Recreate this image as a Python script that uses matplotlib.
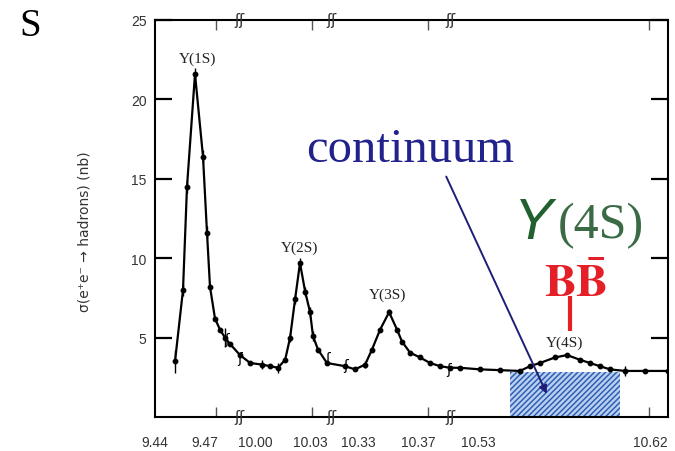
import numpy as np
import matplotlib.pyplot as plt
from matplotlib.patches import Rectangle
from matplotlib.transforms import blended_transform_factory

plt.rcParams['mathtext.fontset'] = 'stix'
plt.rcParams['hatch.linewidth'] = 1.1

# broken energy axis: GeV anchors and their positions along the axis
seg_gev = [8.0, 9.44, 9.491, 9.9945, 10.0436, 10.3213, 10.3913, 10.5206, 10.6294, 12.0]
seg_pos = [-2245, 155, 240, 245, 335, 345, 450, 460, 668, 3287]

# sigma(e+e- -> hadrons) scan (nb)
energy = [9.452, 9.4568, 9.4592, 9.464, 9.4688, 9.4712, 9.473, 9.476, 9.479, 9.482, 9.485, 9.491,
          9.9973, 10.0038, 10.0082, 10.0125, 10.0164, 10.0191, 10.0218, 10.0245, 10.0273,
          10.030, 10.0316, 10.0343, 10.0392,
          10.3213, 10.328, 10.3347, 10.3393, 10.3447, 10.3507, 10.356, 10.3593, 10.3647,
          10.3713, 10.378, 10.3847, 10.3913,
          10.5206, 10.531, 10.5415, 10.552, 10.5572, 10.5624, 10.5703, 10.5766, 10.5834,
          10.5886, 10.5938, 10.599, 10.6069, 10.6174, 10.6294]
xsec = [3.5, 8.0, 14.5, 21.6, 16.4, 11.6, 8.2, 6.2, 5.5, 5.0, 4.6, 3.9,
        3.4, 3.3, 3.2, 3.1, 3.6, 5.0, 7.4, 9.7, 7.9,
        6.6, 5.1, 4.25, 3.4,
        3.2, 3.0, 3.3, 4.25, 5.5, 6.6, 5.5, 4.75, 4.05,
        3.75, 3.4, 3.2, 3.1,
        3.1, 3.0, 2.95, 2.9, 3.2, 3.4, 3.75, 3.9, 3.6,
        3.4, 3.2, 3.0, 2.9, 2.9, 2.9]
xerr_bars = [0.7, 0.4, 0.4, 0.4, 0.4, 0.4, 0.0, 0.0, 0.0, 0.6, 0.0, 0.0,
             0.0, 0.3, 0.0, 0.3, 0.0, 0.3, 0.3, 0.3, 0.3,
             0.3, 0.3, 0.0, 0.0,
             0.0, 0.0, 0.2, 0.0, 0.0, 0.2, 0.0, 0.0, 0.0,
             0.0, 0.0, 0.0, 0.0,
             0.0, 0.0, 0.0, 0.0, 0.0, 0.0, 0.0, 0.0, 0.0,
             0.0, 0.0, 0.0, 0.3, 0.0, 0.0]

peak_names = ['Υ(1S)', 'Υ(2S)', 'Υ(3S)', 'Υ(4S)']
peak_label_x = [9.4658, 10.0245, 10.350, 10.5755]
peak_label_y = [22.6, 10.7, 7.7, 4.7]

xtick_vals = [9.44, 9.47, 10.00, 10.03, 10.33, 10.37, 10.53, 10.62]
xtick_labels = ['9.44', '9.47', '10.00', '10.03', '10.33', '10.37', '10.53', '10.62']
xtick_marks = [9.4766, 10.031, 10.3767, 10.6195]
axis_breaks = [9.4905, 10.0415, 10.3915]
curve_breaks = [(9.483, 4.9), (9.4915, 3.7), (10.0395, 3.7), (10.3215, 3.3), (10.3905, 3.0)]

# continuum window under the 4S
cont_lo, cont_hi, cont_top = 10.5467, 10.6043, 2.85


def fwd(e):
    return np.interp(e, seg_gev, seg_pos)


def inv(p):
    return np.interp(p, seg_pos, seg_gev)


fig = plt.figure(figsize=(6.75, 4.52), dpi=100)
ax = fig.add_axes([155 / 675, 34 / 452, 513 / 675, 397 / 452])
ax.set_xscale('function', functions=(fwd, inv))
ax.set_xlim(9.44, 10.6294)
ax.set_ylim(0, 25)

ax.add_patch(Rectangle((cont_lo, 0), cont_hi - cont_lo, cont_top, facecolor='#b9d0ef',
                       edgecolor='#2f5fb5', hatch='//////', lw=0, zorder=1))

ax.errorbar(energy, xsec, yerr=xerr_bars, fmt='-o', color='black', lw=1.6, ms=3.2,
            elinewidth=1.0, capsize=0, zorder=3)

for name, px, py in zip(peak_names, peak_label_x, peak_label_y):
    ax.text(px, py, name, ha='center', va='center', fontsize=11,
            family='Liberation Serif', color='#222222', zorder=4)

for bx, by in curve_breaks:
    ax.text(bx, by, 'ʃ', ha='center', va='center', fontsize=10, color='black', zorder=4)

trans = blended_transform_factory(ax.transData, ax.transAxes)
for bx in axis_breaks:
    for yy in (0, 1):
        ax.text(bx, yy, 'ʃʃ', transform=trans, ha='center', va='center', fontsize=11,
                color='#333333', clip_on=False)

# axes styling
ax.set_xticks(xtick_vals)
ax.set_xticklabels(xtick_labels)
ax.set_xticks(xtick_marks, minor=True)
ax.tick_params(axis='x', which='major', length=0, pad=13, labelsize=10,
               labelcolor='#333333', top=False)
ax.tick_params(axis='x', which='minor', direction='in', length=7, width=1.0,
               top=True, bottom=True, color='#555555')
ax.set_yticks([5, 10, 15, 20, 25])
ax.tick_params(axis='y', direction='in', length=12, width=1.6, pad=6, labelsize=10,
               labelcolor='#333333', right=True)
for lab in ax.get_xticklabels() + ax.get_yticklabels():
    lab.set_family('Liberation Sans')
for sp in ax.spines.values():
    sp.set_linewidth(1.5)

ax.set_ylabel('σ(e⁺e⁻ → hadrons) (nb)', fontsize=10, color='#333333')
ax.yaxis.set_label_coords(-0.123, 0.47)

# annotations
ax.text(10.3647, 16.9, 'continuum', ha='center', va='center', fontsize=35,
        family='Liberation Serif', color='#22228c')
ax.annotate('', xy=(10.5666, 1.3), xytext=(10.388, 15.3),
            arrowprops=dict(arrowstyle='-|>', color='#1e1e78', lw=1.4, mutation_scale=12),
            zorder=5)
ax.text(10.5488, 11.25, 'Υ', ha='left', va='baseline', fontsize=42, style='italic',
        family='Liberation Sans', color='#22612f')
ax.text(10.5716, 11.3, '(4S)', ha='left', va='baseline', fontsize=36,
        family='Liberation Serif', color='#3a6b45')
ax.text(10.5808, 7.6, r'$\mathbf{B\bar{B}}$', ha='center', va='baseline', fontsize=34,
        color='#e51f28')
ax.vlines(10.578, 5.4, 7.6, color='#e51f28', lw=3, zorder=5)

fig.text(19 / 675, 1 - 36 / 452, 'S', fontsize=28, family='Liberation Serif',
         va='baseline', color='black')

fig.savefig('out.png', dpi=100)
